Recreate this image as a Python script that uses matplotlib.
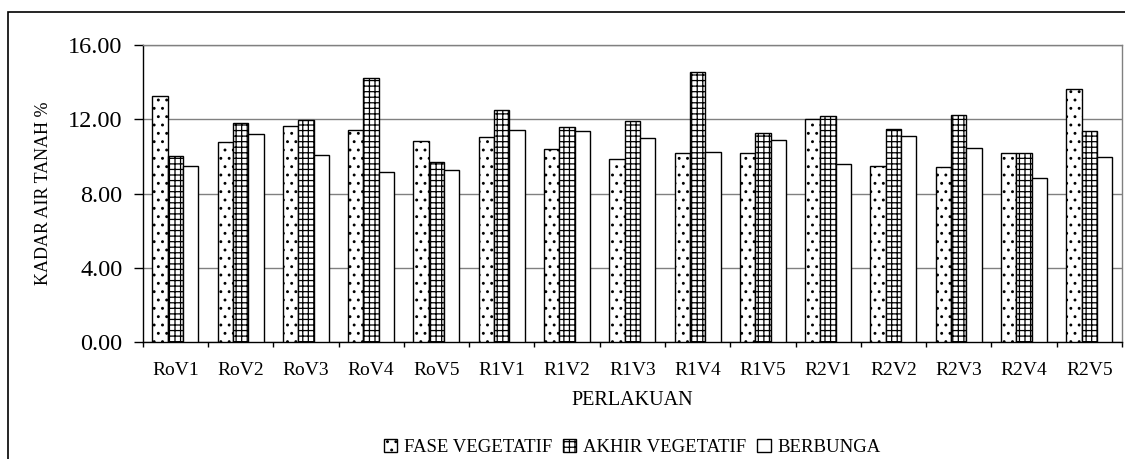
import matplotlib
matplotlib.use("Agg")
import matplotlib.pyplot as plt
from matplotlib.patches import Rectangle
import numpy as np

# Data
perlakuan = ["RoV1", "RoV2", "RoV3", "RoV4", "RoV5",
             "R1V1", "R1V2", "R1V3", "R1V4", "R1V5",
             "R2V1", "R2V2", "R2V3", "R2V4", "R2V5"]
fase_vegetatif = [13.27, 10.76, 11.64, 11.43, 10.83,
                  11.05, 10.40, 9.88, 10.17, 10.17,
                  12.02, 9.50, 9.43, 10.17, 13.65]
akhir_vegetatif = [10.01, 11.79, 11.96, 14.24, 9.72,
                   12.52, 11.57, 11.89, 14.53, 11.28,
                   12.16, 11.50, 12.23, 10.17, 11.36]
berbunga = [9.50, 11.21, 10.10, 9.15, 9.27,
            11.43, 11.36, 10.98, 10.24, 10.90,
            9.58, 11.12, 10.47, 8.86, 9.96]
seri_label = ["FASE VEGETATIF", "AKHIR VEGETATIF", "BERBUNGA"]
y_ticks = [0, 4, 8, 12, 16]

plt.rcParams['font.family'] = ['Liberation Serif', 'DejaVu Serif']
plt.rcParams['hatch.linewidth'] = 0.9

fig = plt.figure(figsize=(11.25, 4.59), dpi=100)
ax = fig.add_axes([0.1268, 0.2542, 0.8705, 0.648])

x = np.arange(len(perlakuan))
lebar = 0.235
seri = [fase_vegetatif, akhir_vegetatif, berbunga]
pola = ['..', '+++', '']

for i, (nilai, h) in enumerate(zip(seri, pola)):
    ax.bar(x + (i - 1) * lebar, nilai, width=lebar, color='white',
           edgecolor='black', linewidth=1.0, hatch=h, label=seri_label[i],
           zorder=3)

# Sumbu dan grid
ax.set_xlim(-0.5, len(perlakuan) - 0.5)
ax.set_ylim(0, 16)
ax.set_yticks(y_ticks)
ax.set_yticklabels([f"{v:.2f}" for v in y_ticks], fontsize=17.5)
ax.yaxis.grid(True, color='#808080', linewidth=1.0, zorder=0)
ax.set_axisbelow(True)

ax.set_xticks(x)
ax.set_xticklabels(perlakuan, fontsize=14)
ax.set_xticks(np.arange(-0.5, len(perlakuan)), minor=True)
ax.tick_params(axis='x', which='major', length=0, pad=14)
ax.tick_params(axis='x', which='minor', length=3.8, width=1.0, direction='out')
ax.tick_params(axis='y', length=6.5, width=1.0, direction='out', pad=8)

for s in ['left', 'bottom']:
    ax.spines[s].set_color('black')
    ax.spines[s].set_linewidth(1.0)
for s in ['top', 'right']:
    ax.spines[s].set_color('#808080')
    ax.spines[s].set_linewidth(1.0)

ax.set_ylabel("KADAR AIR TANAH %", fontsize=13)
ax.yaxis.label.set_va('center')
ax.yaxis.set_label_coords(-0.101, 0.5)
ax.set_xlabel("PERLAKUAN", fontsize=14.5)
ax.xaxis.label.set_va('center')
ax.xaxis.set_label_coords(0.5, -0.197)

fig.legend(loc='center', bbox_to_anchor=(0.562, 0.026), ncol=3,
           frameon=False, fontsize=13.5, handlelength=0.7, handleheight=0.7,
           handletextpad=0.35, columnspacing=0.6, borderaxespad=0)

# Bingkai luar grafik
fig.patches.append(Rectangle((8 / 1125, -0.2), 1.5, 0.2 + (459 - 12) / 459,
                             transform=fig.transFigure, fill=False,
                             edgecolor='black', linewidth=1.2))

fig.savefig("out.png", dpi=100)
